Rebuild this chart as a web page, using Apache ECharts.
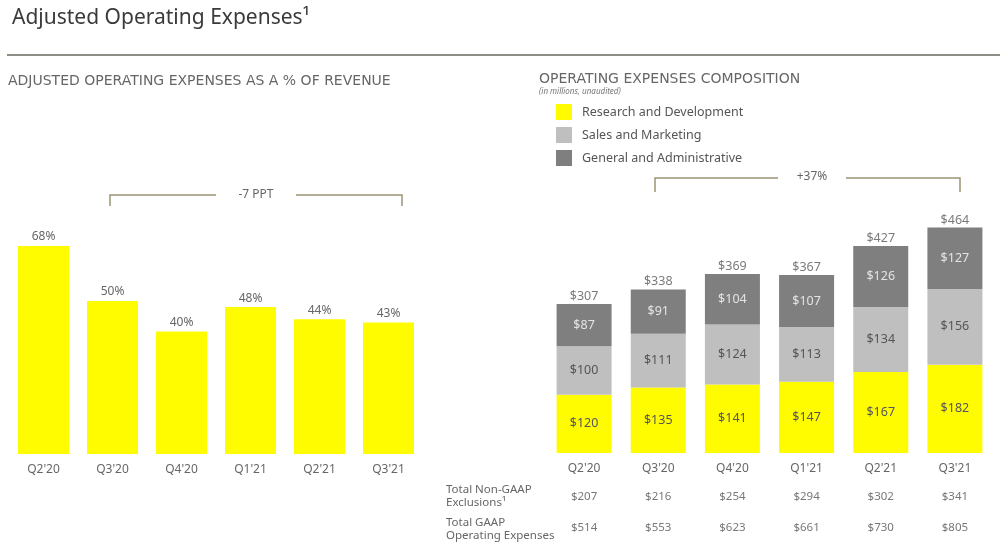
<!DOCTYPE html>
<html>
<head>
<meta charset="utf-8">
<script src="https://cdn.jsdelivr.net/npm/echarts@6/dist/echarts.min.js"></script>
<style>
  html, body { margin: 0; padding: 0; background: #fff; }
  #chart { width: 1000px; height: 544px; }
</style>
</head>
<body>
<div id="chart"></div>
<script>
const categories = ["Q2'20", "Q3'20", "Q4'20", "Q1'21", "Q2'21", "Q3'21"];
const pctOfRevenue = [68, 50, 40, 48, 44, 43];
const researchDev = [120, 135, 141, 147, 167, 182];
const salesMarketing = [100, 111, 124, 113, 134, 156];
const generalAdmin = [87, 91, 104, 107, 126, 127];
const totals = [307, 338, 369, 367, 427, 464];
const nonGaapExclusions = [207, 216, 254, 294, 302, 341];
const gaapOpex = [514, 553, 623, 661, 730, 805];

const FONT = 'Noto Sans';
const YELLOW = '#FFFC00';
const LIGHT = '#BFBFBF';
const DARK = '#7F7F7F';
const BRACKET = '#9a9473';

const chart = echarts.init(document.getElementById('chart'), null, { renderer: 'canvas' });

const hiddenY = (grid, max) => ({
  type: 'value', gridIndex: grid, min: 0, max: max,
  show: false, splitLine: { show: false }
});

const baseX = (grid, data, offset, labelStyle) => ({
  type: 'category', gridIndex: grid, data: data, position: 'bottom', offset: offset,
  axisLine: { show: false }, axisTick: { show: false }, splitLine: { show: false },
  axisLabel: Object.assign({ margin: 10, fontFamily: FONT, interval: 0 }, labelStyle)
});

const option = {
  backgroundColor: '#ffffff',
  animation: false,
  textStyle: { fontFamily: FONT },
  grid: [
    { left: 9, top: 148, width: 414, height: 306 },
    { left: 547, top: 162, width: 445, height: 291 }
  ],
  xAxis: [
    baseX(0, categories, 0, { color: '#666', fontSize: 12 }),
    baseX(1, categories, 0, { color: '#666', fontSize: 12 }),
    baseX(1, nonGaapExclusions.map(v => '$' + v), 28, { color: '#777', fontSize: 11.5 }),
    baseX(1, gaapOpex.map(v => '$' + v), 59, { color: '#777', fontSize: 11.5 })
  ],
  yAxis: [hiddenY(0, 100), hiddenY(1, 600)],
  legend: {
    data: ['Research and Development', 'Sales and Marketing', 'General and Administrative'],
    orient: 'vertical', left: 551, top: 99,
    itemWidth: 16, itemHeight: 16, itemGap: 7, icon: 'rect',
    selectedMode: false,
    textStyle: { color: '#555', fontSize: 12.5, fontFamily: FONT, padding: [0, 0, 0, 5] }
  },
  series: [
    {
      type: 'bar', name: 'Adjusted Opex % of Revenue', xAxisIndex: 0, yAxisIndex: 0,
      data: pctOfRevenue, barWidth: 51, itemStyle: { color: YELLOW },
      label: { show: true, position: 'top', distance: 3, formatter: '{c}%', color: '#666', fontSize: 12, fontFamily: FONT }
    },
    {
      type: 'bar', name: 'Research and Development', xAxisIndex: 1, yAxisIndex: 1, stack: 'opex',
      data: researchDev, barWidth: 55, itemStyle: { color: YELLOW },
      label: { show: true, position: 'inside', formatter: '${c}', color: '#555', fontSize: 12.5, fontFamily: FONT }
    },
    {
      type: 'bar', name: 'Sales and Marketing', xAxisIndex: 1, yAxisIndex: 1, stack: 'opex',
      data: salesMarketing, barWidth: 55, itemStyle: { color: LIGHT },
      label: { show: true, position: 'inside', formatter: '${c}', color: '#555', fontSize: 12.5, fontFamily: FONT }
    },
    {
      type: 'bar', name: 'General and Administrative', xAxisIndex: 1, yAxisIndex: 1, stack: 'opex',
      data: generalAdmin, barWidth: 55, itemStyle: { color: DARK },
      label: { show: true, position: 'inside', formatter: '${c}', color: '#E4E4E4', fontSize: 12.5, fontFamily: FONT }
    },
    {
      type: 'scatter', name: 'Total', xAxisIndex: 1, yAxisIndex: 1,
      data: totals, symbol: 'circle', symbolSize: 2, itemStyle: { color: 'rgba(255,255,255,0)' },
      label: { show: true, position: 'top', distance: 0, formatter: '${c}', color: '#595959', fontSize: 12.5, fontFamily: FONT }
    }
  ],
  graphic: [
    { type: 'text', x: 12, y: 18, style: { text: 'Adjusted Operating Expenses¹', fontSize: 21, fontFamily: FONT, fill: '#3a3a3a', verticalAlign: 'middle' } },
    { type: 'line', shape: { x1: 7, y1: 55, x2: 1000, y2: 55 }, style: { stroke: '#8d8d85', lineWidth: 2 } },
    { type: 'text', x: 8, y: 81, style: { text: 'ADJUSTED OPERATING EXPENSES AS A % OF REVENUE', fontSize: 14, fontFamily: 'DejaVu Sans', fill: '#666', verticalAlign: 'middle' } },
    { type: 'text', x: 539, y: 79, style: { text: 'OPERATING EXPENSES COMPOSITION', fontSize: 14, fontFamily: 'DejaVu Sans', fill: '#666', verticalAlign: 'middle' } },
    { type: 'text', x: 539, y: 92, style: { text: '(in millions, unaudited)', fontSize: 8, fontStyle: 'italic', fontFamily: FONT, fill: '#777', verticalAlign: 'middle' } },
    { type: 'polyline', shape: { points: [[110, 206], [110, 195], [216, 195]] }, style: { stroke: BRACKET, lineWidth: 1.5, fill: null } },
    { type: 'polyline', shape: { points: [[296, 195], [402, 195], [402, 206]] }, style: { stroke: BRACKET, lineWidth: 1.5, fill: null } },
    { type: 'text', x: 256, y: 195, style: { text: '-7 PPT', fontSize: 12, fontFamily: FONT, fill: '#666', align: 'center', verticalAlign: 'middle' } },
    { type: 'polyline', shape: { points: [[655, 192], [655, 178], [778, 178]] }, style: { stroke: BRACKET, lineWidth: 1.5, fill: null } },
    { type: 'polyline', shape: { points: [[846, 178], [960, 178], [960, 192]] }, style: { stroke: BRACKET, lineWidth: 1.5, fill: null } },
    { type: 'text', x: 812, y: 177, style: { text: '+37%', fontSize: 12, fontFamily: FONT, fill: '#666', align: 'center', verticalAlign: 'middle' } },
    { type: 'text', x: 446, y: 496, style: { text: 'Total Non-GAAP\nExclusions¹', fontSize: 11.5, lineHeight: 13, fontFamily: FONT, fill: '#666', verticalAlign: 'middle' } },
    { type: 'text', x: 446, y: 529, style: { text: 'Total GAAP\nOperating Expenses', fontSize: 11.5, lineHeight: 13, fontFamily: FONT, fill: '#666', verticalAlign: 'middle' } }
  ]
};

chart.setOption(option);
</script>
</body>
</html>
